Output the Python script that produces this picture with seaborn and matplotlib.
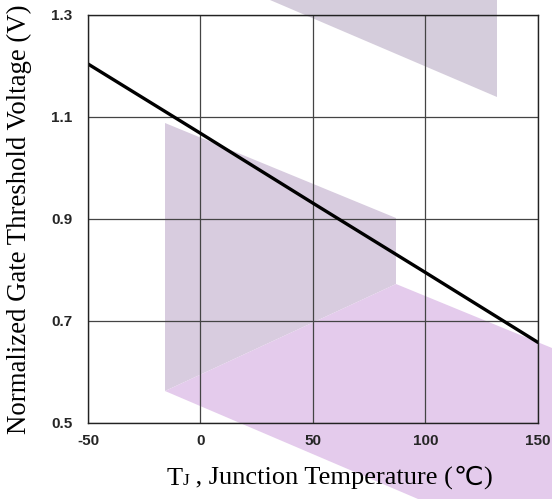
import numpy as np
import pandas as pd
import matplotlib
matplotlib.use('Agg')
import matplotlib.pyplot as plt
import seaborn as sns
from matplotlib.patches import Polygon
from matplotlib.offsetbox import TextArea, HPacker, AnchoredOffsetbox

# Data
temps = [-50, 0, 50, 100, 150]
vth_norm = [1.204, 1.068, 0.931, 0.795, 0.658]

x_ticks = [-50, 0, 50, 100, 150]
y_ticks = [0.5, 0.7, 0.9, 1.1, 1.3]

df = pd.DataFrame({'Tj': temps, 'Vth': vth_norm})

sns.set_theme(style='white')

W, H = 552, 499
fig = plt.figure(figsize=(W / 100, H / 100), dpi=100)
fig.patch.set_facecolor('white')

# Background watermark shapes (figure pixel coords, origin top-left)
shapes = [
    ([(270, 0), (497, 0), (497, 97)], '#d5cddc'),
    ([(165, 123), (396, 218), (396, 284), (165, 391)], '#d8ccdf'),
    ([(165, 391), (396, 284), (552, 348), (552, 499), (418, 499)], '#e4cbec'),
]
for pts, col in shapes:
    verts = [(px / W, 1 - py / H) for px, py in pts]
    fig.patches.append(Polygon(verts, closed=True, transform=fig.transFigure,
                               facecolor=col, edgecolor='none', zorder=-5))

ax = fig.add_axes([88 / W, 1 - 423 / H, (538 - 88) / W, (423 - 15) / H])
ax.set_facecolor('none')
ax.set_zorder(2)

sns.lineplot(data=df, x='Tj', y='Vth', color='black', linewidth=2.4, ax=ax)

ax.set_xlim(-50, 150)
ax.set_ylim(0.5, 1.3)
ax.set_xticks(x_ticks)
ax.set_yticks(y_ticks)
ax.set_xticklabels([str(t) for t in x_ticks], fontfamily='Liberation Sans',
                   fontweight='bold', fontsize=11)
ax.set_yticklabels([f'{t:.1f}' for t in y_ticks], fontfamily='Liberation Sans',
                   fontweight='bold', fontsize=11)
ax.tick_params(axis='x', length=0, pad=8)
ax.tick_params(axis='y', length=0, pad=11)

ax.grid(True, color='#444444', linewidth=0.9)
for s in ax.spines.values():
    s.set_visible(True)
    s.set_color('#222222')
    s.set_linewidth(1.0)

ax.set_xlabel('')
ax.set_ylabel('Normalized Gate Threshold Voltage (V)',
              family=['Liberation Serif'], fontsize=19.3, color='black')
ax.yaxis.set_label_coords((32 - 88) / 450, 0.5)

# x label: T with small J, then the rest
serif = dict(family=['Liberation Serif', 'Noto Sans CJK JP'], color='black')
fs = 19
parts = [
    TextArea('T', textprops=dict(fontsize=fs, **serif)),
    TextArea('J', textprops=dict(fontsize=12.5, **serif)),
    TextArea(' , Junction Temperature (', textprops=dict(fontsize=fs, **serif)),
    TextArea('℃', textprops=dict(fontsize=fs, family=['DejaVu Sans'], color='black')),
    TextArea(')', textprops=dict(fontsize=fs, **serif)),
]
box = HPacker(children=parts, align='baseline', pad=0, sep=0)
anch = AnchoredOffsetbox(loc='center', child=box, frameon=False, pad=0,
                         bbox_to_anchor=(329 / W, 1 - 478 / H),
                         bbox_transform=fig.transFigure, borderpad=0)
fig.add_artist(anch)

fig.savefig('out.png', dpi=100)
